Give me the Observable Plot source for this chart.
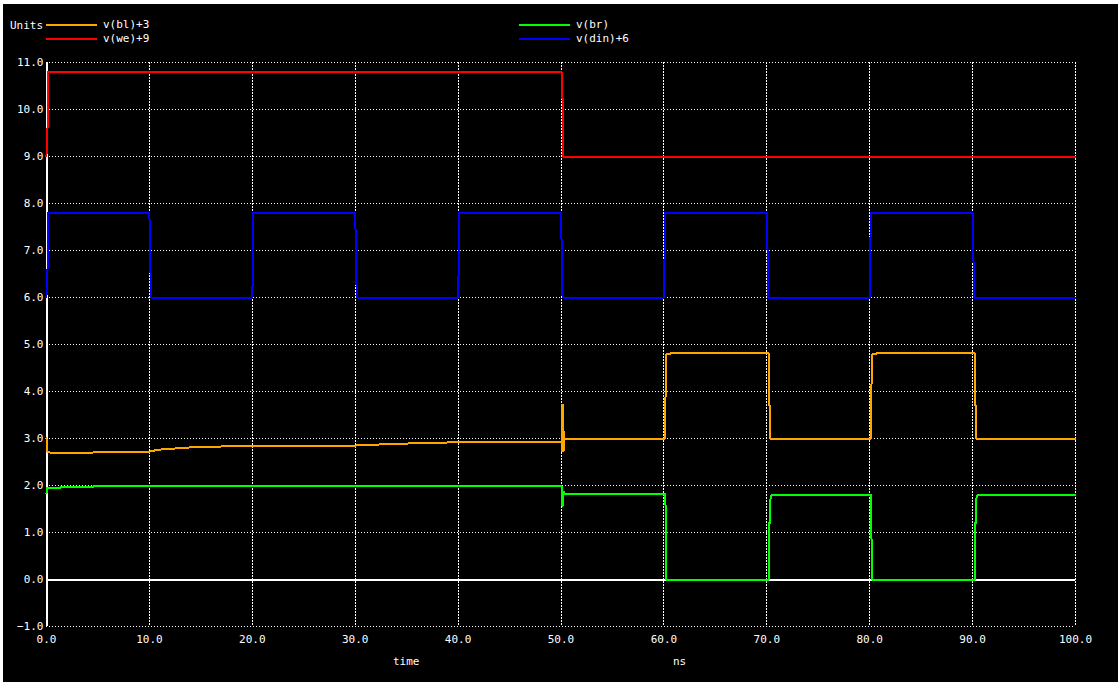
<!DOCTYPE html>
<html>
<head>
<meta charset="utf-8">
<script src="https://cdn.jsdelivr.net/npm/d3@7"></script>
<script src="https://cdn.jsdelivr.net/npm/@observablehq/plot@0.6"></script>
<style>
  html, body { margin: 0; padding: 0; background: #ffffff; }
  #wrap { position: relative; width: 1118px; height: 686px; overflow: hidden; background: #ffffff; }
  #panel { position: absolute; left: 3px; top: 4px; width: 1115px; height: 678px; background: #000000; }
  #chart { position: absolute; left: 0; top: 0; }
  .lbl { position: absolute; color: #ffffff; font-family: "DejaVu Sans Mono", monospace; font-size: 11px; line-height: 12px; white-space: nowrap; }
  .sw { position: absolute; height: 2px; width: 51px; }
</style>
</head>
<body>
<div id="wrap">
  <div id="panel">
    <div id="chart"></div>
    <div id="legend"></div>
    <div class="lbl" style="left:390px; top:652px;">time</div>
    <div class="lbl" style="left:670px; top:652px;">ns</div>
  </div>
</div>
<script>
// ---- data (time in ns, value in V) ----
const seriesNames = ["v(bl)+3", "v(we)+9", "v(br)", "v(din)+6"];
const seriesColors = ["#ffa500", "#ff0000", "#00ff00", "#0000ff"];

const bl = [
  [0, 3.0], [0.05, 2.72], [0.4, 2.70], [4.5, 2.70], [4.6, 2.72], [10, 2.72], [10.8, 2.76],
  [12, 2.78], [14, 2.81], [17, 2.83], [29, 2.84], [30, 2.85], [32, 2.87], [36, 2.9],
  [40, 2.92], [50.05, 2.92], [50.1, 2.74], [50.12, 3.72], [50.2, 3.72], [50.22, 3.43],
  [50.28, 2.74], [50.35, 3.0], [60.1, 3.0], [60.15, 3.77], [60.2, 4.49], [60.25, 4.79],
  [60.6, 4.8], [60.65, 4.81], [70.2, 4.81], [70.25, 3.7], [70.3, 3.7], [70.35, 3.0],
  [80.1, 3.0], [80.15, 3.77], [80.2, 4.49], [80.25, 4.79], [80.6, 4.8], [80.65, 4.81],
  [90.2, 4.81], [90.25, 3.7], [90.3, 3.7], [90.35, 3.0], [100, 3.0]
];
const we = [
  [0, 9.0], [0.02, 9.57], [0.1, 9.6], [0.15, 10.8], [50.05, 10.8], [50.1, 10.25],
  [50.15, 10.25], [50.2, 9.0], [100, 9.0]
];
const br = [
  [0, 1.83], [0.02, 1.94], [1.3, 1.94], [1.35, 1.96], [4.5, 1.96], [4.6, 1.98],
  [50.1, 1.98], [50.12, 1.57], [50.2, 1.6], [50.25, 1.87], [50.4, 1.81], [60.15, 1.81],
  [60.2, 0.0], [70.2, 0.0], [70.22, 1.2], [70.3, 1.2], [70.32, 1.65], [70.4, 1.77],
  [70.5, 1.79], [80.15, 1.79], [80.2, 0.0], [90.2, 0.0], [90.22, 1.2], [90.3, 1.2],
  [90.32, 1.65], [90.4, 1.77], [90.5, 1.79], [100, 1.79]
];
const din = [
  [0, 6.0], [0.02, 6.57], [0.1, 6.6], [0.12, 7.8], [10.0, 7.8], [10.05, 7.25], [10.15, 6.0],
  [20.0, 6.0], [20.05, 6.57], [20.1, 7.8], [30.0, 7.8], [30.05, 7.25], [30.15, 6.0],
  [40.0, 6.0], [40.05, 6.57], [40.1, 7.8], [50.0, 7.8], [50.05, 7.25], [50.15, 6.0],
  [60.0, 6.0], [60.05, 6.57], [60.1, 7.8], [70.0, 7.8], [70.05, 7.25], [70.15, 6.0],
  [80.0, 6.0], [80.05, 6.57], [80.1, 7.8], [90.0, 7.8], [90.05, 7.25], [90.15, 6.0],
  [100, 6.0]
];
const xTicks = [0, 10, 20, 30, 40, 50, 60, 70, 80, 90, 100];
const yTicks = [-1, 0, 1, 2, 3, 4, 5, 6, 7, 8, 9, 10, 11];

const allSeries = [bl, we, br, din];

const plot = Plot.plot({
  width: 1115,
  height: 678,
  marginLeft: 43,
  marginRight: 43,
  marginTop: 58,
  marginBottom: 56,
  style: { background: "black", color: "white", fontFamily: "DejaVu Sans Mono, monospace", fontSize: "11px" },
  x: { domain: [0, 100], ticks: xTicks, tickFormat: d3.format(".1f"), label: null },
  y: { domain: [-1, 11], ticks: yTicks, tickFormat: d3.format(".1f"), label: null },
  marks: [
    Plot.gridY(yTicks, { stroke: "white", strokeOpacity: 1, strokeDasharray: "1,2", strokeWidth: 1, shapeRendering: "crispEdges" }),
    Plot.gridX(xTicks, { stroke: "white", strokeOpacity: 1, strokeDasharray: "2,1", strokeWidth: 1, shapeRendering: "crispEdges" }),
    Plot.axisY(yTicks, { tickSize: 0, tickPadding: 3, tickFormat: d3.format(".1f"), fill: "white", fontSize: 11 }),
    Plot.axisX(xTicks, { tickSize: 0, tickPadding: 9, tickFormat: d3.format(".1f"), fill: "white", fontSize: 11, label: null }),
    Plot.ruleY([0], { stroke: "white", strokeWidth: 2, shapeRendering: "crispEdges" }),
    Plot.ruleX([0], { stroke: "white", strokeWidth: 2, shapeRendering: "crispEdges" }),
    ...allSeries.map((s, i) => Plot.line(s, { x: d => d[0], y: d => d[1], stroke: seriesColors[i], strokeWidth: 2, shapeRendering: "crispEdges" }))
  ]
});
document.getElementById("chart").appendChild(plot);

// ---- legend ----
const legend = document.getElementById("legend");
function addLabel(text, left, top) {
  const d = document.createElement("div");
  d.className = "lbl";
  d.style.left = left + "px";
  d.style.top = top + "px";
  d.textContent = text;
  legend.appendChild(d);
}
addLabel("Units", 7, 16);
const legendPos = [[43, 20], [43, 34], [516, 20], [516, 34]];
seriesNames.forEach((name, i) => {
  const [lx, ly] = legendPos[i];
  const sw = document.createElement("div");
  sw.className = "sw";
  sw.style.left = lx + "px";
  sw.style.top = ly + "px";
  sw.style.background = seriesColors[i];
  legend.appendChild(sw);
  addLabel(name, lx + 57, ly - 5);
});
</script>
</body>
</html>
